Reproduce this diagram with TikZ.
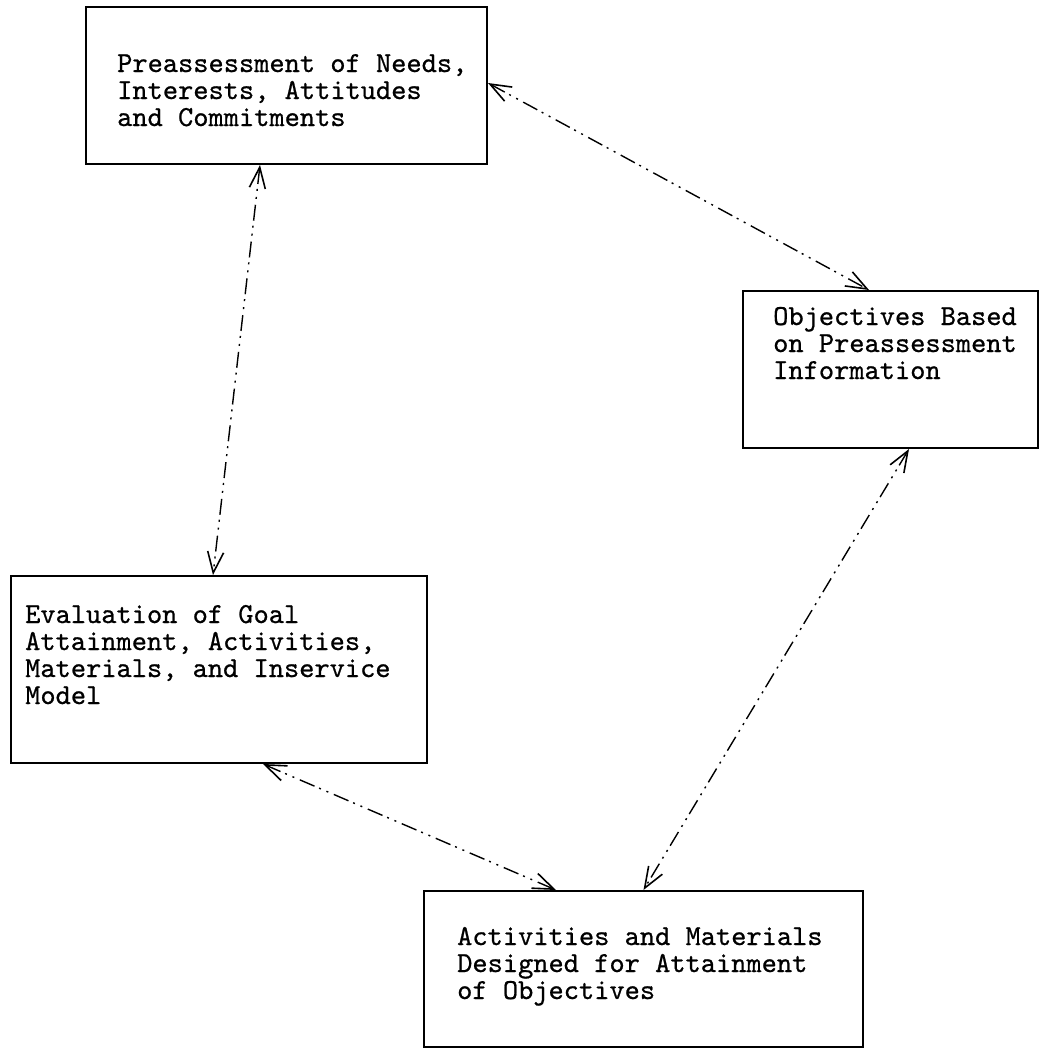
\documentclass[tikz,border=0pt]{standalone}
\usepackage{fontspec}
\newfontfamily\twfont{lmmono10-regular.otf}[FakeBold=0.7]
\usetikzlibrary{arrows.meta}
\begin{document}
\begin{tikzpicture}[x=1pt,y=-1pt,
  box/.style={draw=black, line width=2pt, rectangle, inner sep=0pt, anchor=north west},
  txt/.style={inner sep=0pt, anchor=base west, align=left,
    font=\fontsize{29}{27}\selectfont\twfont},
  link/.style={draw=black, line width=1.4pt,
    dash pattern=on 16pt off 5pt on 2pt off 6pt on 2pt off 6pt,
    {Straight Barb[length=21pt,width=16pt,line width=1.6pt]}-{Straight Barb[length=21pt,width=16pt,line width=1.6pt]}}
]
\useasboundingbox (0,0) rectangle (1039,1049);
\fill[white] (0,0) rectangle (1039,1049);

\node[box, minimum width=401pt, minimum height=157pt] (b1) at (85,6) {};
\node[box, minimum width=295pt, minimum height=157pt] (b2) at (742,290) {};
\node[box, minimum width=416pt, minimum height=187pt] (b3) at (10,575) {};
\node[box, minimum width=439pt, minimum height=156pt] (b4) at (423,890) {};

\node[txt] (t1) at (117,126) {Preassessment of Needs,\\Interests, Attitudes\\and Commitments};
\node[txt] (t2) at (773,379) {Objectives Based\\on Preassessment\\Information};
\node[txt] (t3) at (25,704) {Evaluation of Goal\\Attainment, Activities,\\Materials, and Inservice\\Model};
\node[txt] (t4) at (457,999) {Activities and Materials\\Designed for Attainment\\of Objectives};

\draw[link] ([yshift=2.5pt]b1.east) -- ([xshift=-21.5pt]b2.north);
\draw[link] ([xshift=18.5pt]b2.south) -- (b4.north);
\draw[link] ([xshift=-26.5pt]b1.south) -- ([xshift=-6pt]b3.north);
\draw[link] ([xshift=44pt]b3.south) -- ([xshift=-87.5pt]b4.north);
\end{tikzpicture}
\end{document}
